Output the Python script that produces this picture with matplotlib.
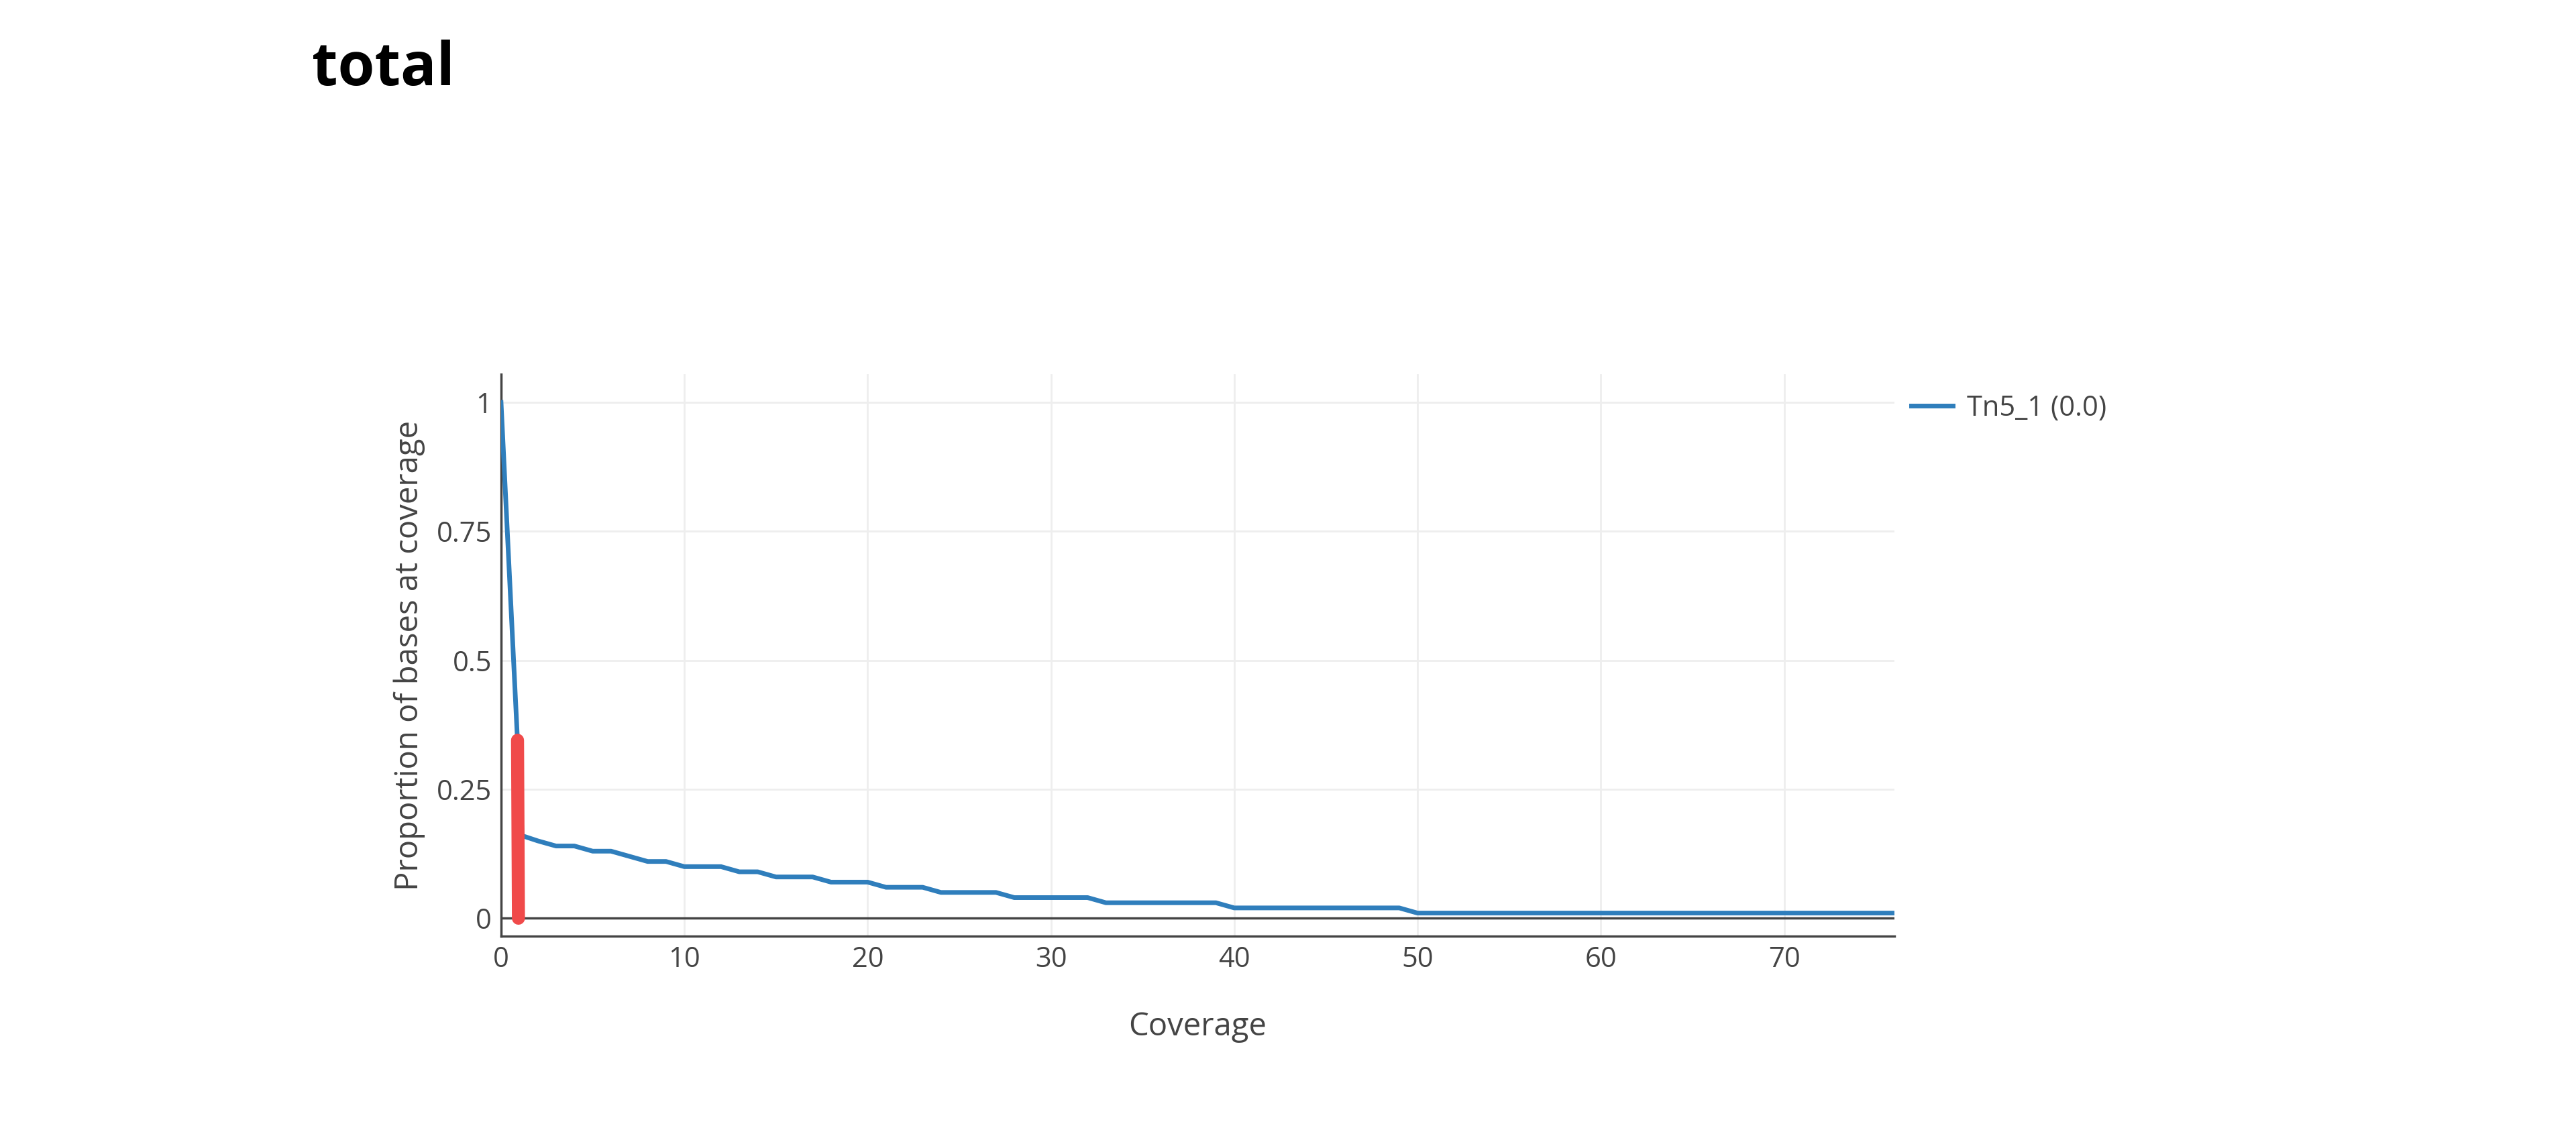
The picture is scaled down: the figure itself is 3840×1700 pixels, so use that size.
import matplotlib
matplotlib.use('Agg')
import matplotlib.pyplot as plt

plt.rcParams['font.family'] = ['Open Sans', 'DejaVu Sans']

coverage = [0, 1.15, 2, 3, 4, 5, 6, 7, 8, 9, 10, 11, 12, 13, 14, 15, 16, 17, 18, 19, 20,
            21, 22, 23, 24, 25, 26, 27, 28, 29, 30, 31, 32, 33, 34, 35, 36, 37, 38, 39,
            40, 45, 49, 50, 60, 70, 76]
proportion = [1.0, 0.16, 0.15, 0.14, 0.14, 0.13, 0.13, 0.12, 0.11, 0.11, 0.10, 0.10, 0.10,
              0.09, 0.09, 0.08, 0.08, 0.08, 0.07, 0.07, 0.07, 0.06, 0.06, 0.06, 0.05, 0.05,
              0.05, 0.05, 0.04, 0.04, 0.04, 0.04, 0.04, 0.03, 0.03, 0.03, 0.03, 0.03, 0.03,
              0.03, 0.02, 0.02, 0.02, 0.01, 0.01, 0.01, 0.01]
marker_x = [0.9, 0.95]
marker_y = [0.345, 0.0]

fig = plt.figure(figsize=(38.4, 17), dpi=100)
ax = fig.add_axes([0.1945, 0.1787, 0.5408, 0.4928])

grey = '#444444'
ax.plot(coverage, proportion, color='#2f7ebc', lw=5, label='Tn5_1 (0.0)', zorder=3)
ax.plot(marker_x, marker_y, color='#f04a4a', lw=14, solid_capstyle='round', zorder=4)

ax.set_xlim(0, 76)
ax.set_ylim(-0.035, 1.054)
ax.set_xticks([0, 10, 20, 30, 40, 50, 60, 70])
ax.set_yticks([0, 0.25, 0.5, 0.75, 1])
ax.set_yticklabels(['0', '0.25', '0.5', '0.75', '1'])
ax.grid(color='#eeeeee', lw=2)
ax.set_axisbelow(True)
ax.axhline(0, color=grey, lw=2.5, zorder=2)
for s in ['top', 'right']:
    ax.spines[s].set_visible(False)
for s in ['left', 'bottom']:
    ax.spines[s].set_color(grey)
    ax.spines[s].set_linewidth(2.5)
ax.tick_params(colors=grey, labelsize=30, length=0, pad=10)
ax.set_xlabel('Coverage', fontsize=34, color=grey, labelpad=40)
ax.set_ylabel('Proportion of bases at coverage', fontsize=34, color=grey, labelpad=12)

leg = ax.legend(loc='upper left', bbox_to_anchor=(0.998, 1.0), frameon=False,
                fontsize=30, handlelength=1.5, handletextpad=0.5, borderaxespad=0.3)
for t in leg.get_texts():
    t.set_color(grey)

fig.text(0.121, 0.965, 'total', fontsize=64, fontweight='bold', va='top')

fig.savefig('out.png')
